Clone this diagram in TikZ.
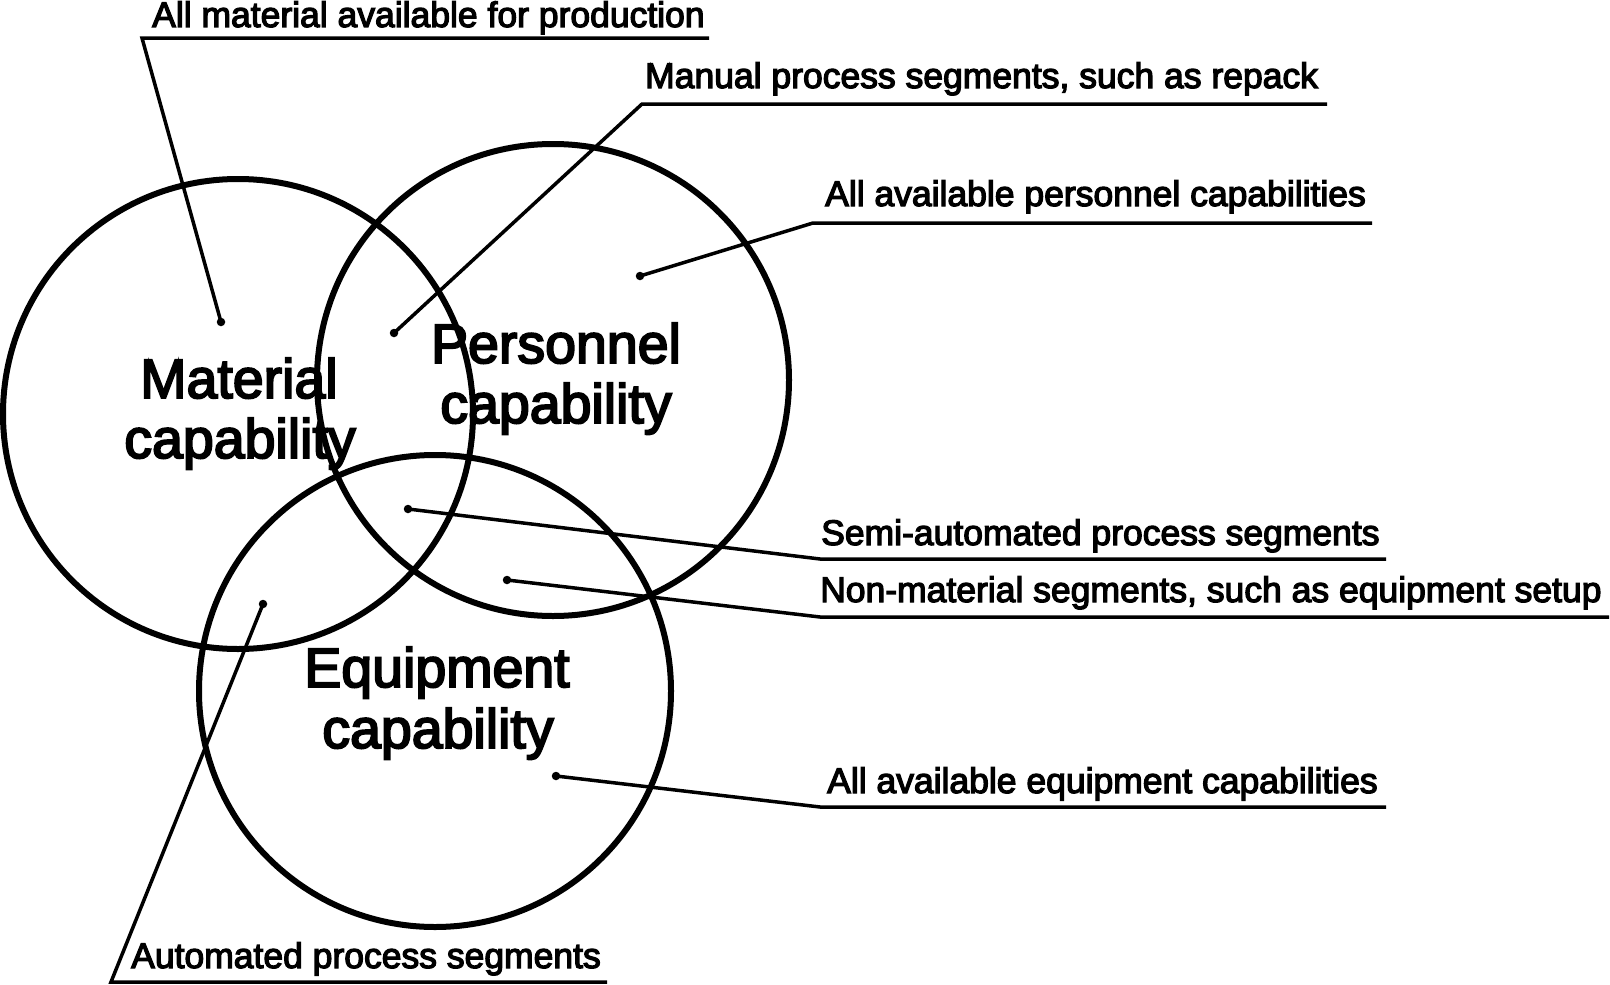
\documentclass[tikz,border=0pt]{standalone}
\usepackage{fontspec}
\setmainfont{Liberation Sans}
\newfontfamily\heavysans{Liberation Sans}[FakeBold=3.5]
\begin{document}
\begin{tikzpicture}[x=1pt,y=-1pt,
  ring/.style={draw, circle, line width=6pt, inner sep=0pt, minimum size=#1},
  bigtxt/.style={font=\heavysans\fontsize{55.5}{60}\selectfont, inner sep=0pt, anchor=base},
  lbl/.style={font=\heavysans\fontsize{35.5}{40}\selectfont, inner sep=0pt, anchor=base west},
  dot/.style={circle, fill=black, inner sep=0pt, minimum size=8.5pt},
  leader/.style={line width=3.5pt, line join=miter}]
\useasboundingbox (0,0) rectangle (1610,985);

% circles
\node[ring=470pt] (mat) at (238,414) {};
\node[ring=472pt] (per) at (553,380) {};
\node[ring=472pt] (equ) at (435,691) {};

% big labels
\node[bigtxt] (matA) at (239,398) {Material};
\node[bigtxt] (matB) at (240,458) {capability};
\node[bigtxt] (perA) at (556,363) {Personnel};
\node[bigtxt] (perB) at (556,423) {capability};
\node[bigtxt] (equA) at (437,687) {Equipment};
\node[bigtxt] (equB) at (438,748) {capability};

% dots
\node[dot] (d1) at (221,322) {};
\node[dot] (d2) at (394,333) {};
\node[dot] (d3) at (640,276) {};
\node[dot] (d4) at (408,509) {};
\node[dot] (d5) at (507,580) {};
\node[dot] (d6) at (556,776) {};
\node[dot] (d7) at (263,604) {};

% underline corners
\coordinate (u1s) at (142,38);   \coordinate (u1e) at (709,38);
\coordinate (u2s) at (642,104);  \coordinate (u2e) at (1327,104);
\coordinate (u3s) at (813,223);  \coordinate (u3e) at (1372,223);
\coordinate (u4s) at (820,559);  \coordinate (u4e) at (1386,559);
\coordinate (u5s) at (820,617);  \coordinate (u5e) at (1609,617);
\coordinate (u6s) at (820,807);  \coordinate (u6e) at (1386,807);
\coordinate (u7s) at (111,982);  \coordinate (u7e) at (607,982);

% texts
\node[lbl] (t1) at (152,27) {All material available for production};
\node[lbl] (t2) at (645,88) {Manual process segments, such as repack};
\node[lbl] (t3) at (825,206) {All available personnel capabilities};
\node[lbl] (t4) at (821,545) {Semi-automated process segments};
\node[lbl] (t5) at (820,602) {Non-material segments, such as equipment setup};
\node[lbl] (t6) at (827,793) {All available equipment capabilities};
\node[lbl] (t7) at (131,968) {Automated process segments};

% leaders
\draw[leader] (d1.center) -- (u1s) -- (u1e);
\draw[leader] (d2.center) -- (u2s) -- (u2e);
\draw[leader] (d3.center) -- (u3s) -- (u3e);
\draw[leader] (d4.center) -- (u4s) -- (u4e);
\draw[leader] (d5.center) -- (u5s) -- (u5e);
\draw[leader] (d6.center) -- (u6s) -- (u6e);
\draw[leader] (d7.center) -- (u7s) -- (u7e);
\end{tikzpicture}
\end{document}
